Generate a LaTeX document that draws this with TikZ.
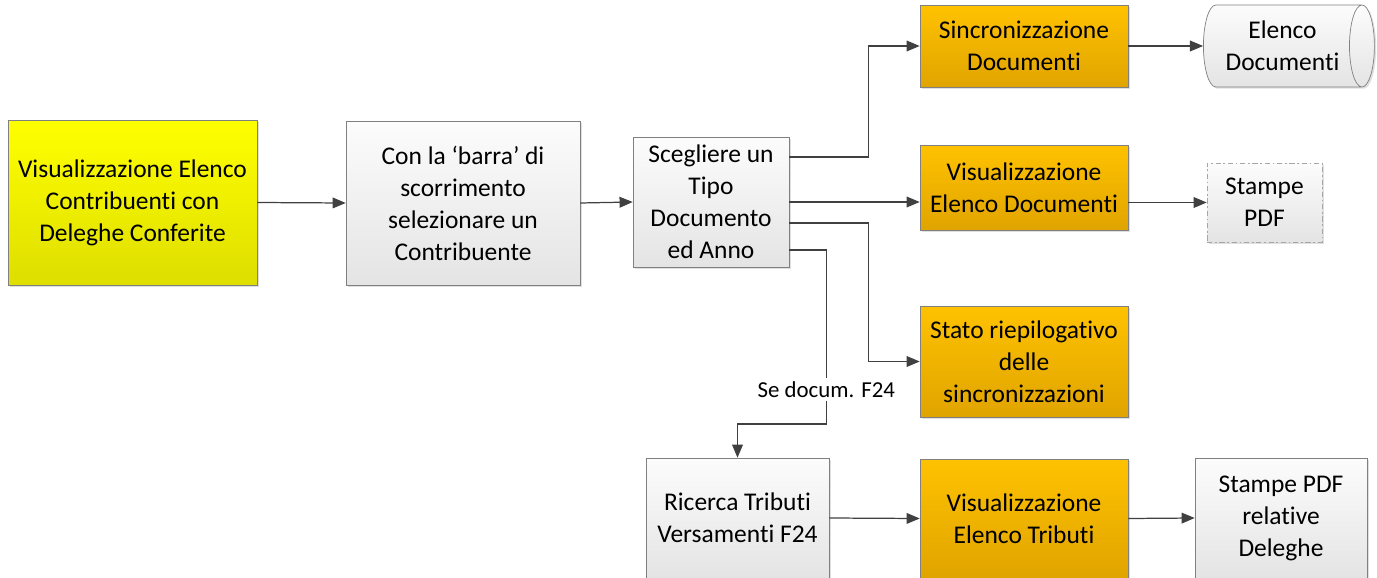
\documentclass[tikz,border=0pt]{standalone}
\usepackage{fontspec}
\setmainfont{Carlito}[Ligatures={NoCommon,NoContextual}]
\usetikzlibrary{arrows, shapes.geometric, shadows, positioning}

\definecolor{giallotop}{RGB}{255,255,0}
\definecolor{giallobot}{RGB}{222,222,0}
\definecolor{arancio}{RGB}{255,194,0}
\definecolor{aranciobot}{RGB}{224,164,0}
\definecolor{grigiotop}{RGB}{252,252,252}
\definecolor{grigiobot}{RGB}{228,228,228}
\definecolor{bordo}{RGB}{128,128,128}
\definecolor{linea}{RGB}{64,64,64}

\begin{document}
\begin{tikzpicture}[x=0.02cm, y=-0.02cm, >=triangle 45,
    testo/.style={align=center, font=\fontsize{14.5}{18.2}\selectfont, inner sep=0pt},
    ombra/.style={drop shadow={opacity=0.25, shadow xshift=1pt, shadow yshift=-1pt}},
    giallo/.style={testo, ombra, draw=bordo, top color=giallotop, bottom color=giallobot},
    passo/.style={testo, ombra, draw=bordo, top color=arancio, bottom color=aranciobot},
    grigio/.style={testo, ombra, draw=bordo, top color=grigiotop, bottom color=grigiobot},
    freccia/.style={->, draw=linea, line width=0.7pt}]
        \useasboundingbox (0,0) rectangle (1377,578);

        % Blocchi di sinistra
        \node[giallo, minimum width=4.98cm, minimum height=3.30cm] (elenco) at (132.5,202.5)
            {Visualizzazione Elenco\\Contribuenti con\\Deleghe Conferite};
        \node[grigio, minimum width=4.68cm, minimum height=3.28cm] (barra) at (463,203)
            {Con la `barra' di\\scorrimento\\selezionare un\\Contribuente};
        \node[grigio, minimum width=3.12cm, minimum height=2.60cm] (tipo) at (711,202)
            {Scegliere un\\Tipo\\Documento\\ed Anno};

        % Colonna dei documenti
        \node[passo, minimum width=4.16cm, minimum height=1.64cm] (sincro) at (1024,46)
            {Sincronizzazione\\Documenti};
        \node[grigio, cylinder, shape border rotate=0, aspect=0.5,
              minimum width=1.64cm, minimum height=3.42cm] (archivio) at (1282.5,46)
            {Elenco\\Documenti};
        \node[passo, minimum width=4.16cm, minimum height=1.70cm] (vedidoc) at (1024,187.5)
            {Visualizzazione\\Elenco Documenti};
        \node[testo, ombra, draw=bordo!70, top color=grigiotop, bottom color=grigiobot,
              dash pattern=on 3pt off 1.5pt on 1pt off 1.5pt,
              minimum width=2.30cm, minimum height=1.58cm] (stampe) at (1264.5,202.5)
            {Stampe\\PDF};
        \node[passo, minimum width=4.16cm, minimum height=2.22cm] (stato) at (1024,361.5)
            {Stato riepilogativo\\delle\\sincronizzazioni};

        % Ramo F24
        \node[grigio, minimum width=3.66cm, minimum height=2.40cm] (ricerca) at (737.5,518)
            {Ricerca Tributi\\Versamenti F24};
        \node[passo, minimum width=4.16cm, minimum height=2.38cm] (tributi) at (1024,518.5)
            {Visualizzazione\\Elenco Tributi};
        \node[grigio, minimum width=3.44cm, minimum height=2.40cm] (deleghe) at (1281,518)
            {Stampe PDF\\relative\\Deleghe};

        % Collegamenti
        \draw[freccia] (elenco.east) -- (barra.west);
        \draw[freccia] (barra.east) -- (tipo.west);
        \draw[freccia] ([yshift=0.9cm]tipo.east) -- ++(1.58cm,0) |- (sincro.west);
        \draw[freccia] (tipo.east) -- (tipo.east -| vedidoc.west);
        \draw[freccia] ([yshift=-0.42cm]tipo.east) -- ++(1.58cm,0) |- (stato.west);
        \draw[freccia] ([yshift=-0.96cm]tipo.east) -- ++(0.74cm,0)
            -- node[pos=0.8, fill=white, inner sep=2pt, font=\fontsize{13}{16}\selectfont] {Se docum. F24} ++(0,-3.48cm)
            -| (ricerca.north);
        \draw[freccia] (sincro.east) -- (archivio.west);
        \draw[freccia] (stampe.west -| vedidoc.east) -- (stampe.west);
        \draw[freccia] (ricerca.east) -- (tributi.west);
        \draw[freccia] (tributi.east) -- (deleghe.west);
    \end{tikzpicture}
\end{document}
